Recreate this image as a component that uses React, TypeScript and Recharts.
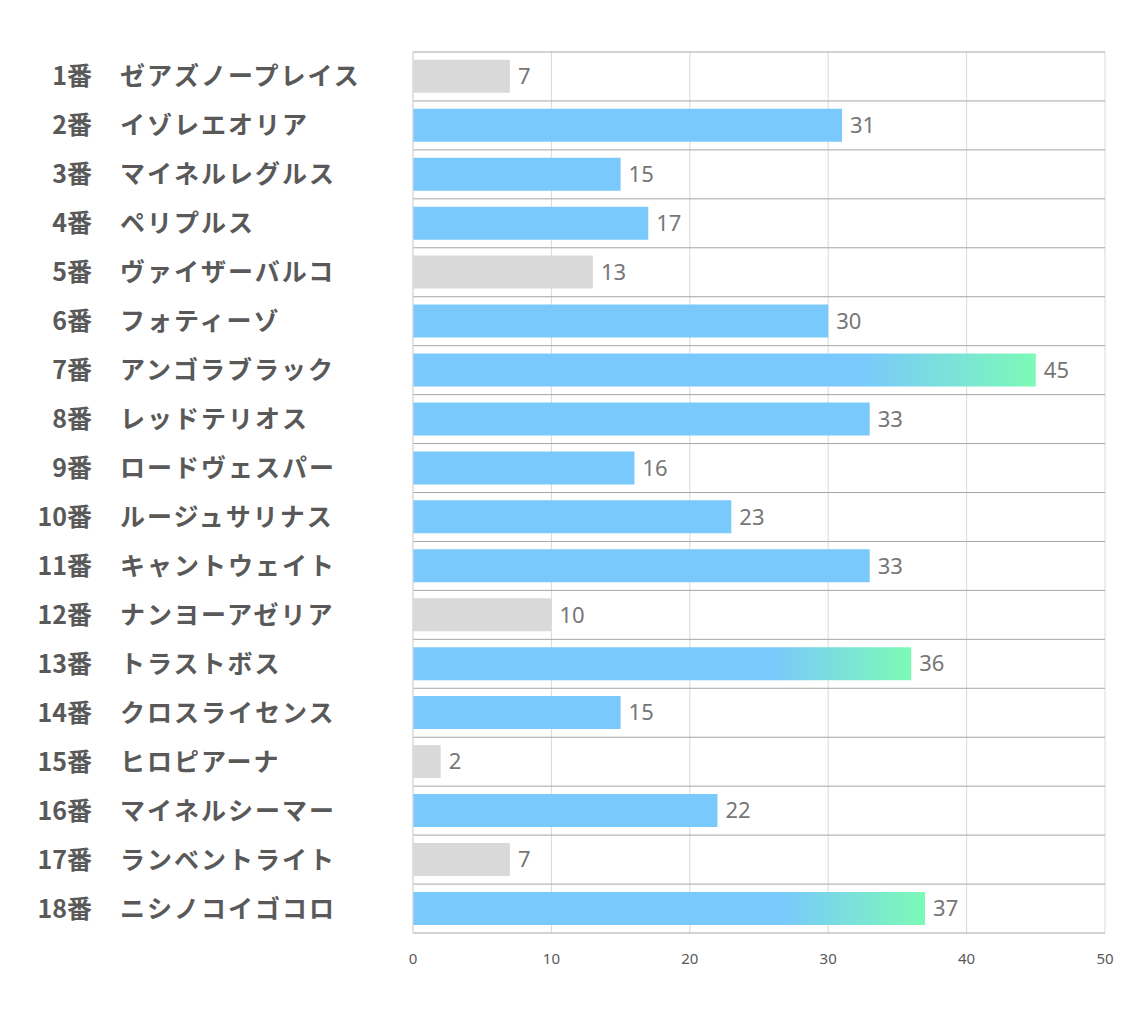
import React from 'react';
import {
  BarChart,
  Bar,
  XAxis,
  YAxis,
  CartesianGrid,
  Cell,
  LabelList
} from 'recharts';

const gateNumbers = [1, 2, 3, 4, 5, 6, 7, 8, 9, 10, 11, 12, 13, 14, 15, 16, 17, 18];
const horseNames = [
  'ゼアズノープレイス', 'イゾレエオリア', 'マイネルレグルス', 'ペリプルス',
  'ヴァイザーバルコ', 'フォティーゾ', 'アンゴラブラック', 'レッドテリオス',
  'ロードヴェスパー', 'ルージュサリナス', 'キャントウェイト', 'ナンヨーアゼリア',
  'トラストボス', 'クロスライセンス', 'ヒロピアーナ', 'マイネルシーマー',
  'ランベントライト', 'ニシノコイゴコロ'
];
const scores = [7, 31, 15, 17, 13, 30, 45, 33, 16, 23, 33, 10, 36, 15, 2, 22, 7, 37];
const xTicks = [0, 10, 20, 30, 40, 50];

const TOP_COUNT = 3;
const BOTTOM_COUNT = 5;

const sorted = [...scores].sort((a, b) => b - a);
const topCut = sorted[TOP_COUNT - 1];
const bottomCut = sorted[sorted.length - BOTTOM_COUNT];

const data = gateNumbers.map((n, i) => ({
  key: String(n),
  gate: `${n}番`,
  name: horseNames[i],
  value: scores[i]
}));

const fillFor = (v: number) => {
  if (v >= topCut) return 'url(#topGrad)';
  if (v <= bottomCut) return '#d9d9d9';
  return '#79c9fc';
};

const labelFont = '"Noto Sans CJK JP", "Noto Sans", sans-serif';

function HorseTick(props: any) {
  const { y, payload } = props;
  const row = data[payload.index] ?? data.find((d) => d.key === payload.value);
  return (
    <g>
      <text x={92} y={y} dy={9} textAnchor="end" fontSize={25} fontWeight={700} fill="#595959" fontFamily={labelFont}>
        {row?.gate}
      </text>
      <text x={120} y={y} dy={9} textAnchor="start" fontSize={25} letterSpacing={2} fontWeight={700} fill="#595959" fontFamily={labelFont}>
        {row?.name}
      </text>
    </g>
  );
}

export default function App() {
  const rows = data.length;
  return (
    <div style={{ position: 'absolute', left: 0, top: 0, width: 1134, height: 1020, background: '#fff' }}>
      <BarChart
        width={1134}
        height={1020}
        data={data}
        layout="vertical"
        margin={{ top: 52, right: 29, left: 0, bottom: 57 }}
        barCategoryGap="16%"
      >
        <defs>
          <linearGradient id="topGrad" x1="0" y1="0" x2="1" y2="0">
            <stop offset="0" stopColor="#79c9fc" />
            <stop offset="0.72" stopColor="#79c9fc" />
            <stop offset="1" stopColor="#7cfab6" />
          </linearGradient>
        </defs>
        <CartesianGrid vertical horizontal={false} stroke="#d9d9d9" />
        <CartesianGrid
          vertical={false}
          horizontal
          stroke="#a6a6a6"
          horizontalCoordinatesGenerator={({ offset }: any) =>
            Array.from({ length: rows + 1 }, (_, i) => offset.top + (i * offset.height) / rows)
          }
        />
        <XAxis
          type="number"
          domain={[0, 50]}
          ticks={xTicks}
          axisLine={false}
          tickLine={false}
          tickMargin={14}
          tick={{ fill: '#595959', fontSize: 15, fontFamily: '"Noto Sans", sans-serif' }}
          height={30}
        />
        <YAxis
          type="category"
          dataKey="key"
          width={413}
          axisLine={{ stroke: '#d9d9d9' }}
          tickLine={false}
          interval={0}
          tick={<HorseTick />}
        />
        <Bar dataKey="value" isAnimationActive={false}>
          {data.map((d) => (
            <Cell key={d.key} fill={fillFor(d.value)} />
          ))}
          <LabelList
            dataKey="value"
            position="right"
            offset={8}
            fill="#767676"
            fontSize={22}
            fontFamily='"Noto Sans", sans-serif'
          />
        </Bar>
      </BarChart>
    </div>
  );
}
